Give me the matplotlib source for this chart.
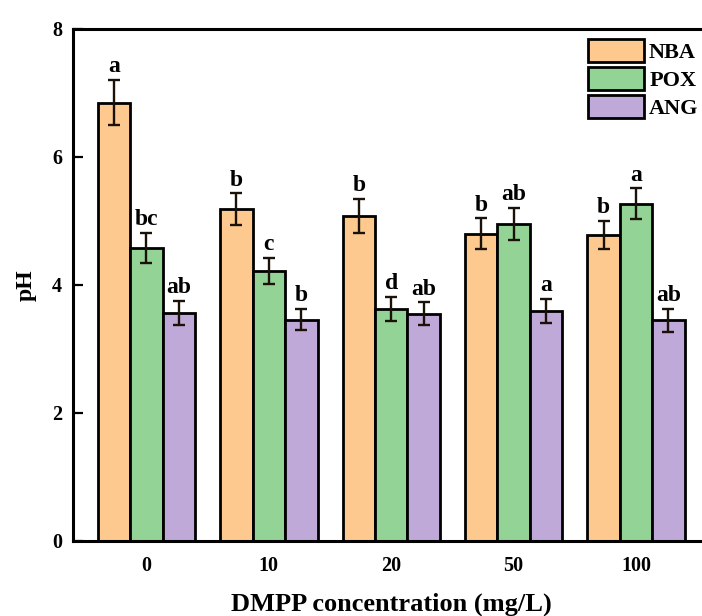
import matplotlib
matplotlib.use("Agg")
import matplotlib.pyplot as plt
import numpy as np

categories = ["0", "10", "20", "50", "100"]
series = ["NBA", "POX", "ANG"]
nba = [6.85, 5.18, 5.08, 4.80, 4.78]
pox = [4.58, 4.22, 3.62, 4.96, 5.27]
ang = [3.56, 3.46, 3.55, 3.59, 3.45]
nba_err = [0.35, 0.25, 0.27, 0.24, 0.22]
pox_err = [0.23, 0.20, 0.19, 0.25, 0.24]
ang_err = [0.19, 0.17, 0.18, 0.19, 0.18]
nba_sig = ["a", "b", "b", "b", "b"]
pox_sig = ["bc", "c", "d", "ab", "a"]
ang_sig = ["ab", "b", "ab", "a", "ab"]
colors = ["#FDC98F", "#93D395", "#BFA9D8"]

plt.rcParams['font.family'] = ['Liberation Serif', 'DejaVu Serif']
plt.rcParams['font.weight'] = 'bold'

fig = plt.figure(figsize=(7.02, 6.16), dpi=100)
W, H = 702, 616
left, right, bottom, top = 73, 709.5, 541, 29
ax = fig.add_axes([left / W, 1 - bottom / H, (right - left) / W, (bottom - top) / H])

x = np.arange(len(categories))
width = 0.265
data = [nba, pox, ang]
errs = [nba_err, pox_err, ang_err]
sigs = [nba_sig, pox_sig, ang_sig]
for i, (vals, err, sig, c, name) in enumerate(zip(data, errs, sigs, colors, series)):
    pos = x + (i - 1) * width
    ax.bar(pos, vals, width, color=c, edgecolor="black", linewidth=2.0, label=name, zorder=2)
    ax.errorbar(pos, vals, yerr=err, fmt="none", ecolor="#1a1208", elinewidth=1.7,
                capsize=4.5, capthick=1.7, zorder=3)
    for p, v, e, s in zip(pos, vals, err, sig):
        ax.annotate(s, (p, v + e), xytext=(0, 2), textcoords="offset points",
                    ha="center", va="bottom", fontsize=17, fontweight="bold")

ax.set_xlim(-0.6, 4.6)
ax.set_ylim(0, 8)
ax.set_yticks([0, 2, 4, 6, 8])
ax.set_xticks(x)
ax.set_xticklabels(categories)
ax.tick_params(axis="y", direction="in", length=7, width=1.6, labelsize=14.5, pad=8)
ax.tick_params(axis="x", length=0, labelsize=14.5, pad=11)
for sp in ax.spines.values():
    sp.set_linewidth(2.2)

ax.set_xlabel("DMPP concentration (mg/L)", fontsize=19, fontweight="bold", labelpad=12)
ax.set_ylabel("pH", fontsize=17, fontweight="bold", labelpad=11)

leg = ax.legend(loc="upper left", bbox_to_anchor=(588 / W, 1 - 39 / H),
                bbox_transform=fig.transFigure, frameon=False, fontsize=16,
                handlelength=2.5, handleheight=1.2, labelspacing=0.18,
                handletextpad=0.25, borderpad=0, borderaxespad=0)

fig.savefig("out.png", dpi=100, facecolor="white")
